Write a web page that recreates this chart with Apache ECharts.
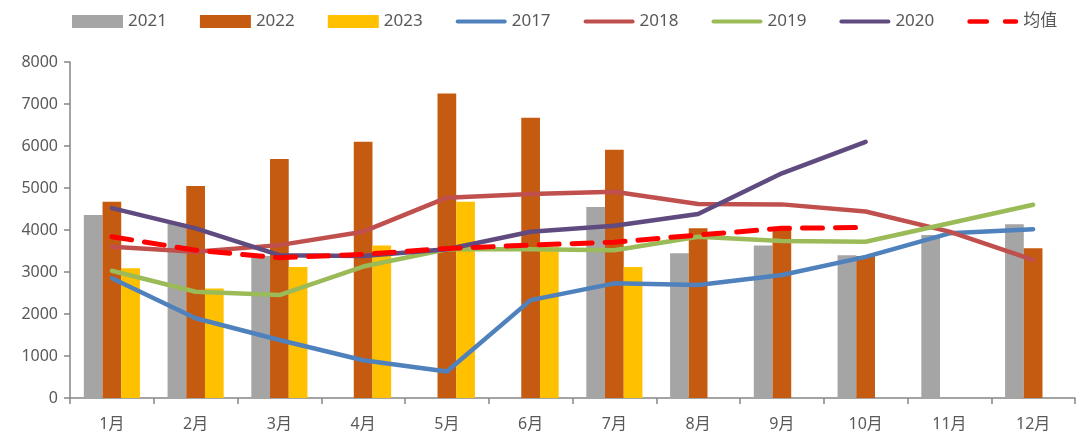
<!DOCTYPE html>
<html>
<head>
<meta charset="utf-8">
<script src="https://cdn.jsdelivr.net/npm/echarts@6/dist/echarts.min.js"></script>
<style>
    html, body {margin: 0; padding: 0; background: #fff;}
    #chart {width: 1091px; height: 436px;}
</style>
</head>
<body>
<div id="chart"></div>
<script>
var months = ['1月', '2月', '3月', '4月', '5月', '6月', '7月', '8月', '9月', '10月', '11月', '12月'];

// bars
var y2021 = [4360, 4150, 3380, null, null, null, 4550, 3445, 3630, 3400, 3880, 4135];
var y2022 = [4670, 5050, 5690, 6100, 7250, 6670, 5910, 4040, 4000, 3380, null, 3565];
var y2023 = [3090, 2610, 3120, 3630, 4670, 3600, 3120, null, null, null, null, null];

// lines
var y2017 = [2850, 1900, 1380, 900, 630, 2330, 2730, 2690, 2930, 3360, 3920, 4020];
var y2018 = [3600, 3480, 3640, 3960, 4770, 4860, 4910, 4620, 4610, 4440, 3960, 3290];
var y2019 = [3030, 2530, 2450, 3130, 3540, 3540, 3520, 3840, 3740, 3720, 4160, 4600];
var y2020 = [4520, 4040, 3400, 3380, 3540, 3960, 4100, 4380, 5350, 6100, null, null];
var avg = [3840, 3520, 3340, 3420, 3560, 3640, 3710, 3880, 4040, 4060, null, null];

var yTicks = [0, 1000, 2000, 3000, 4000, 5000, 6000, 7000, 8000];

var font = '"Noto Sans", "Noto Sans CJK SC", sans-serif';
var textColor = '#595959';
var axisColor = '#868686';

var lineIcon = 'path://M2,0 L49,0 A2,2 0 0 1 49,4 L2,4 A2,2 0 0 1 2,0 Z';
var dashIcon = 'path://M2,0 L21,0 A2.5,2.5 0 0 1 21,5 L2,5 A2.5,2.5 0 0 1 2,0 Z M41,0 L53,0 A2.5,2.5 0 0 1 53,5 L41,5 A2.5,2.5 0 0 1 41,0 Z';

var myChart = echarts.init(document.getElementById('chart'));

function bar(name, data, color) {
    return {
        name: name, type: 'bar', data: data,
        barGap: '0%', barCategoryGap: '33%',
        itemStyle: {color: color},
        emphasis: {disabled: true}
    };
}

function line(name, data, color, dashed) {
    return {
        name: name, type: 'line', data: data,
        symbol: 'none',
        lineStyle: {color: color, width: dashed ? 5 : 4.5, type: dashed ? [20, 13] : 'solid', cap: 'round'},
        itemStyle: {color: color},
        emphasis: {disabled: true}
    };
}

var option = {
    animation: false,
    textStyle: {fontFamily: font},
    legend: {
        top: 8,
        left: 67,
        itemWidth: 51,
        itemHeight: 13,
        itemGap: 33,
        textStyle: {fontSize: 17, color: textColor, fontFamily: font},
        data: [
            {name: '2021', icon: 'rect'},
            {name: '2022', icon: 'rect'},
            {name: '2023', icon: 'rect'},
            {name: '2017', icon: lineIcon},
            {name: '2018', icon: lineIcon},
            {name: '2019', icon: lineIcon},
            {name: '2020', icon: lineIcon},
            {name: '均值', icon: dashIcon}
        ]
    },
    grid: {left: 70, right: 16, top: 62, bottom: 38},
    xAxis: {
        type: 'category',
        data: months,
        boundaryGap: true,
        axisLine: {lineStyle: {color: axisColor, width: 1.5}},
        axisTick: {show: true, alignWithLabel: false, length: 6, lineStyle: {color: axisColor, width: 1.5}},
        axisLabel: {fontSize: 16, color: textColor, margin: 18, fontFamily: font}
    },
    yAxis: {
        type: 'value',
        min: yTicks[0],
        max: yTicks[yTicks.length - 1],
        interval: 1000,
        axisLine: {show: true, lineStyle: {color: axisColor, width: 1.5}},
        axisTick: {show: true, inside: false, length: 6, lineStyle: {color: axisColor, width: 1.5}},
        axisLabel: {fontSize: 16, color: textColor, margin: 12, fontFamily: font, formatter: function (v) { return String(v); }},
        splitLine: {show: false}
    },
    series: [
        bar('2021', y2021, '#A5A5A5'),
        bar('2022', y2022, '#C55A11'),
        bar('2023', y2023, '#FFC000'),
        line('2017', y2017, '#4F81BD'),
        line('2018', y2018, '#C0504D'),
        line('2019', y2019, '#9BBB59'),
        line('2020', y2020, '#5F4B7F'),
        line('均值', avg, '#FF0000', true)
    ]
};

myChart.setOption(option);
</script>
</body>
</html>
